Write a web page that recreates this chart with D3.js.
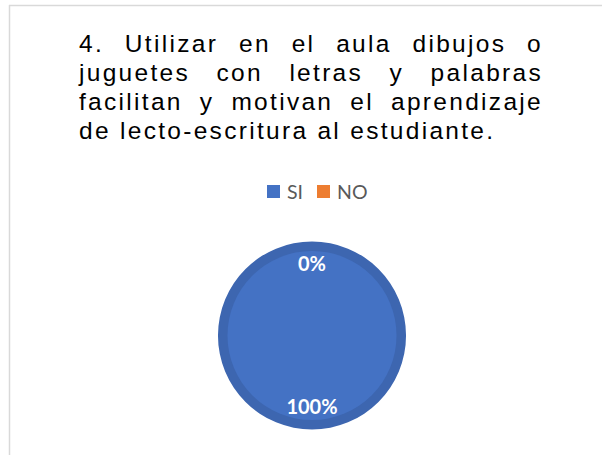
<!DOCTYPE html>
<html>
<head>
<meta charset="utf-8">
<script src="https://cdn.jsdelivr.net/npm/d3@7"></script>
<style>
  body { margin: 0; background: #fff; }
</style>
</head>
<body>
<script>
// chart data
var categories = ["SI", "NO"];
var values = [100, 0];
var colors = ["#4472c4", "#ed7d31"];
var titleLines = [
  "4. Utilizar en el aula dibujos o",
  "juguetes con letras y palabras",
  "facilitan y motivan el aprendizaje",
  "de lecto-escritura al estudiante."
];

var width = 602;
var height = 455;

var svg = d3.select("body").append("svg")
    .attr("width", width)
    .attr("height", height);

// frame (only top and left edges show in the crop)
svg.append("line")
    .attr("x1", 9).attr("y1", 5.5).attr("x2", width).attr("y2", 5.5)
    .attr("stroke", "#d9d9d9").attr("stroke-width", 1.5);
svg.append("line")
    .attr("x1", 9.5).attr("y1", 5).attr("x2", 9.5).attr("y2", height)
    .attr("stroke", "#d9d9d9").attr("stroke-width", 1.5);

// justified title
var titleLeft = 79;
var titleRight = 543;
var fs = 24.5, ls = 2.3;
var titleG = svg.append("g");
titleLines.forEach(function(line, i)
{
  var y = 52 + i * 29;
  var words = line.split(" ");
  var nodes = words.map(function(w){
    return titleG.append("text")
      .attr("y", y)
      .attr("font-family", "'Liberation Sans', Arial, sans-serif")
      .attr("font-size", fs)
      .attr("letter-spacing", ls + "px")
      .attr("fill", "#000")
      .text(w);
  });
  var widths = nodes.map(function(n){ return n.node().getComputedTextLength(); });
  var total = d3.sum(widths);
  var gap;
  if (i < titleLines.length - 1) {
    gap = (titleRight - titleLeft - total) / (words.length - 1);
  } else {
    gap = fs * 0.278 + ls;
  }
  var x = titleLeft;
  nodes.forEach(function(n, j){
    n.attr("x", x);
    x += widths[j] + gap;
  });
});

// legend
var legend = svg.append("g")
    .selectAll("g")
    .data(categories)
    .enter()
    .append("g")
    .attr("transform", function(d, i){ return "translate(" + (267 + i * 50) + ",185)"; });
legend.append("rect")
    .attr("width", 13)
    .attr("height", 13)
    .attr("fill", function(d, i){ return colors[i]; });
legend.append("text")
    .attr("x", 20)
    .attr("y", 14)
    .attr("font-family", "Lato, 'Open Sans', sans-serif")
    .attr("font-size", 19.5)
    .attr("fill", "#595959")
    .text(function(d){ return d; });

// pie
var cx = 312, cy = 335.5, r = 94;
var pie = d3.pie().sort(null);
var arcs = pie(values);
var outerArc = d3.arc().innerRadius(0).outerRadius(r);
var innerArc = d3.arc().innerRadius(0).outerRadius(r - 9.5);
var labelArc = d3.arc().innerRadius(r * 0.76).outerRadius(r * 0.76);

var pieG = svg.append("g").attr("transform", "translate(" + cx + "," + cy + ")");
pieG.selectAll("path.outer")
    .data(arcs)
    .enter()
    .append("path")
    .attr("class", "outer")
    .attr("d", outerArc)
    .attr("fill", function(d, i){ return d3.color(colors[i]).darker(0.3); });
pieG.selectAll("path.inner")
    .data(arcs)
    .enter()
    .append("path")
    .attr("class", "inner")
    .attr("d", innerArc)
    .attr("fill", function(d, i){ return colors[i]; });

var total = d3.sum(values);
pieG.selectAll("text")
    .data(arcs)
    .enter()
    .append("text")
    .attr("transform", function(d){
      var c = labelArc.centroid(d);
      return "translate(" + c[0] + "," + c[1] + ")";
    })
    .attr("text-anchor", "middle")
    .attr("dy", "0.36em")
    .attr("font-family", "Lato, 'Open Sans', sans-serif")
    .attr("font-weight", "bold")
    .attr("font-size", 20)
    .attr("fill", "#fff")
    .text(function(d){ return Math.round(d.value / total * 100) + "%"; });
</script>
</body>
</html>
